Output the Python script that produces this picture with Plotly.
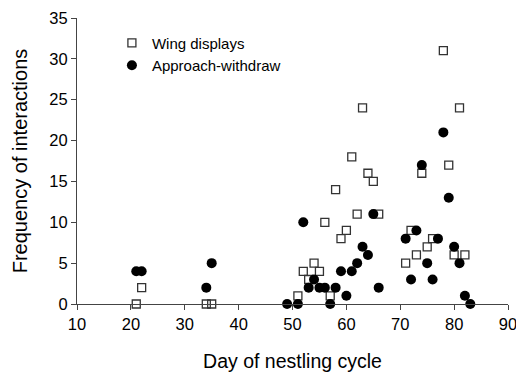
import plotly.graph_objects as go

wing_day = [21, 22, 34, 35, 51, 52, 53, 54, 55, 56, 57, 58, 59, 60, 61, 62, 63, 64, 65, 66,
            71, 72, 73, 74, 75, 76, 78, 79, 80, 81, 82]
wing_freq = [0, 2, 0, 0, 1, 4, 3, 5, 4, 10, 1, 14, 8, 9, 18, 11, 24, 16, 15, 11,
             5, 9, 6, 16, 7, 8, 31, 17, 6, 24, 6]

appr_day = [21, 22, 34, 35, 49, 51, 52, 53, 54, 55, 56, 57, 58, 59, 60, 61, 62, 63, 64, 65, 66,
            71, 72, 73, 74, 75, 76, 77, 78, 79, 80, 81, 82, 83]
appr_freq = [4, 4, 2, 5, 0, 0, 10, 2, 3, 2, 2, 0, 2, 4, 1, 4, 5, 7, 6, 11, 2,
             8, 3, 9, 17, 5, 3, 8, 21, 13, 7, 5, 1, 0]

x_ticks = [10, 20, 30, 40, 50, 60, 70, 80, 90]
y_ticks = [0, 5, 10, 15, 20, 25, 30, 35]

FONT = "Arial, Liberation Sans, sans-serif"

fig = go.Figure()
fig.add_trace(go.Scatter(
    x=wing_day, y=wing_freq, mode="markers", name="Wing displays",
    marker=dict(symbol="square-open", size=8, color="#333333", line=dict(width=1.3)),
    cliponaxis=False,
))
fig.add_trace(go.Scatter(
    x=appr_day, y=appr_freq, mode="markers", name="Approach-withdraw",
    marker=dict(symbol="circle", size=10, color="black"),
    cliponaxis=False,
))

# page body has an 8px default margin, so the figure is sized to fit the window
fig.update_layout(
    width=516, height=368,
    margin=dict(l=68.5, r=16, t=10, b=72),
    plot_bgcolor="white", paper_bgcolor="white",
    font=dict(family=FONT, size=16.5, color="black"),
    showlegend=True,
    legend=dict(x=0.081, y=0.970, xanchor="left", yanchor="top",
                bgcolor="rgba(0,0,0,0)", font=dict(size=15),
                itemwidth=30),
    xaxis=dict(range=[10, 90], tickvals=x_ticks, ticks="outside", ticklen=5,
               showline=True, linecolor="#444", linewidth=1, showgrid=False,
               zeroline=False, tickcolor="#444", automargin=False,
               ticklabeloverflow="allow",
               title=dict(text="Day of nestling cycle", font=dict(size=19.5), standoff=22)),
    yaxis=dict(range=[0, 35], tickvals=y_ticks, ticks="outside", ticklen=5,
               showline=True, linecolor="#444", linewidth=1, showgrid=False,
               zeroline=False, tickcolor="#444", automargin=False,
               ticklabeloverflow="allow",
               title=dict(text="Frequency of interactions", font=dict(size=20), standoff=16)),
)

fig.write_html("out.html")
